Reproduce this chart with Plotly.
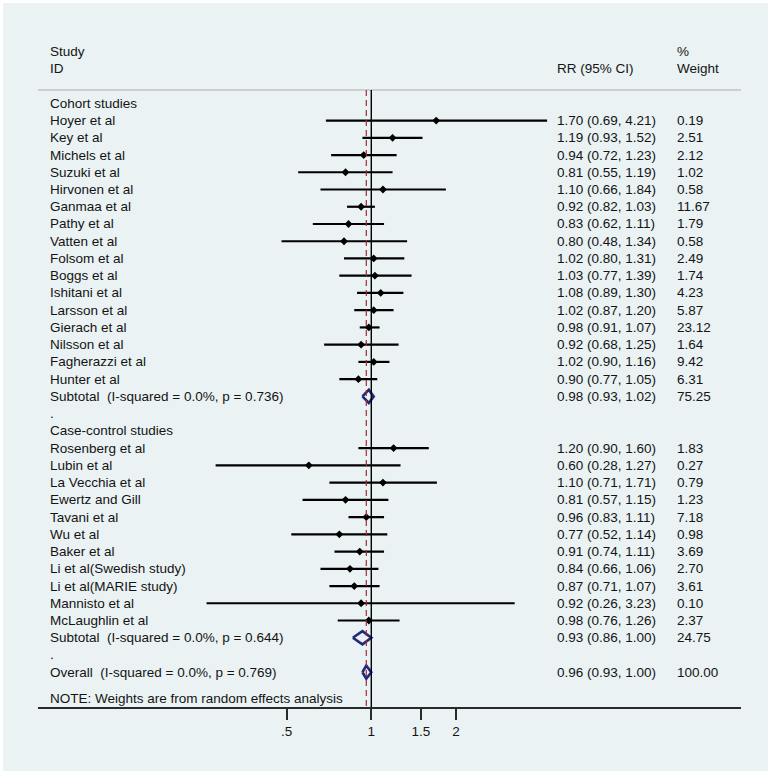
import math
import plotly.graph_objects as go

# ---------------- data ----------------
cohort_studies = ["Hoyer et al", "Key et al", "Michels et al", "Suzuki et al", "Hirvonen et al",
                  "Ganmaa et al", "Pathy et al", "Vatten et al", "Folsom et al", "Boggs et al",
                  "Ishitani et al", "Larsson et al", "Gierach et al", "Nilsson et al",
                  "Fagherazzi et al", "Hunter et al"]
cohort_rr = [1.70, 1.19, 0.94, 0.81, 1.10, 0.92, 0.83, 0.80, 1.02, 1.03, 1.08, 1.02, 0.98, 0.92, 1.02, 0.90]
cohort_lo = [0.69, 0.93, 0.72, 0.55, 0.66, 0.82, 0.62, 0.48, 0.80, 0.77, 0.89, 0.87, 0.91, 0.68, 0.90, 0.77]
cohort_hi = [4.21, 1.52, 1.23, 1.19, 1.84, 1.03, 1.11, 1.34, 1.31, 1.39, 1.30, 1.20, 1.07, 1.25, 1.16, 1.05]
cohort_w = [0.19, 2.51, 2.12, 1.02, 0.58, 11.67, 1.79, 0.58, 2.49, 1.74, 4.23, 5.87, 23.12, 1.64, 9.42, 6.31]

case_studies = ["Rosenberg et al", "Lubin et al", "La Vecchia et al", "Ewertz and Gill", "Tavani et al",
                "Wu et al", "Baker et al", "Li et al(Swedish study)", "Li et al(MARIE study)",
                "Mannisto et al", "McLaughlin et al"]
case_rr = [1.20, 0.60, 1.10, 0.81, 0.96, 0.77, 0.91, 0.84, 0.87, 0.92, 0.98]
case_lo = [0.90, 0.28, 0.71, 0.57, 0.83, 0.52, 0.74, 0.66, 0.71, 0.26, 0.76]
case_hi = [1.60, 1.27, 1.71, 1.15, 1.11, 1.14, 1.11, 1.06, 1.07, 3.23, 1.26]
case_w = [1.83, 0.27, 0.79, 1.23, 7.18, 0.98, 3.69, 2.70, 3.61, 0.10, 2.37]

group_names = ["Cohort studies", "Case-control studies"]
subtotal_rr = [0.98, 0.93]
subtotal_lo = [0.93, 0.86]
subtotal_hi = [1.02, 1.00]
subtotal_w = [75.25, 24.75]
subtotal_i2 = ["0.0%", "0.0%"]
subtotal_p = ["0.736", "0.644"]

overall_rr, overall_lo, overall_hi, overall_w = 0.96, 0.93, 1.00, 100.00
overall_i2, overall_p = "0.0%", "0.769"

tick_vals = [0.5, 1, 1.5, 2]
tick_text = [".5", "1", "1.5", "2"]
null_value = 1
note_text = "NOTE: Weights are from random effects analysis"

# ---------------- build rows ----------------
groups = [
    (cohort_studies, cohort_rr, cohort_lo, cohort_hi, cohort_w),
    (case_studies, case_rr, case_lo, case_hi, case_w),
]

labels = []      # (row, text)
rr_col = []      # (row, text)
w_col = []       # (row, text)
study_rows, study_rr, study_lo, study_hi = [], [], [], []
diamonds = []    # (row, lo, est, hi)

row = 0
for gi, (names, rr, lo, hi, w) in enumerate(groups):
    labels.append((row, group_names[gi]))
    row += 1
    for n, r_, l_, h_, w_ in zip(names, rr, lo, hi, w):
        labels.append((row, n))
        rr_col.append((row, f"{r_:.2f} ({l_:.2f}, {h_:.2f})"))
        w_col.append((row, f"{w_:.2f}"))
        study_rows.append(row)
        study_rr.append(r_)
        study_lo.append(l_)
        study_hi.append(h_)
        row += 1
    labels.append((row, f"Subtotal  (I-squared = {subtotal_i2[gi]}, p = {subtotal_p[gi]})"))
    rr_col.append((row, f"{subtotal_rr[gi]:.2f} ({subtotal_lo[gi]:.2f}, {subtotal_hi[gi]:.2f})"))
    w_col.append((row, f"{subtotal_w[gi]:.2f}"))
    diamonds.append((row, subtotal_lo[gi], subtotal_rr[gi], subtotal_hi[gi]))
    row += 1
    labels.append((row, "."))
    row += 1
row_overall = row
labels.append((row, f"Overall  (I-squared = {overall_i2}, p = {overall_p})"))
rr_col.append((row, f"{overall_rr:.2f} ({overall_lo:.2f}, {overall_hi:.2f})"))
w_col.append((row, f"{overall_w:.2f}"))
diamonds.append((row, overall_lo, overall_rr, overall_hi))
note_row = row + 1.5

# ---------------- geometry ----------------
W, H = 774, 778
ml, mr, mt, mb = 38, 33, 35, 71
plot_w = W - ml - mr
plot_h = H - mt - mb
y_top, y_bot = -3.962, 35.017
sep_row = -0.77
x_lo_log, x_hi_log = -1.1836, 1.3129

FONT = "Liberation Sans, Arial, sans-serif"
FS = 13.5
TXT = "#141414"

fig = go.Figure()

# CI lines
cx, cy = [], []
for r_, l_, h_ in zip(study_rows, study_lo, study_hi):
    cx += [l_, h_, None]
    cy += [r_, r_, None]
fig.add_trace(go.Scatter(x=cx, y=cy, mode="lines", line=dict(color="black", width=2.2),
                         hoverinfo="skip", showlegend=False))
# point estimates
fig.add_trace(go.Scatter(x=study_rr, y=study_rows, mode="markers",
                         marker=dict(symbol="diamond", size=6, color="black"),
                         showlegend=False))
# summary diamonds
half_h = 0.38
dx, dy = [], []
for r_, l_, e_, h_ in diamonds:
    dx += [l_, e_, h_, e_, l_, None]
    dy += [r_, r_ - half_h, r_, r_ + half_h, r_, None]
fig.add_trace(go.Scatter(x=dx, y=dy, mode="lines", line=dict(color="#1f2a78", width=2.6),
                         hoverinfo="skip", showlegend=False))

annotations = []
def add_text(xp, yr, text):
    annotations.append(dict(x=xp, xref="paper", y=yr, yref="y", text=text, showarrow=False,
                            xanchor="left", yanchor="middle",
                            font=dict(family=FONT, size=FS, color=TXT)))

x_lab = (48 - ml) / plot_w
x_rr = (555 - ml) / plot_w
x_w = (675 - ml) / plot_w
for r_, t in labels:
    add_text(x_lab, r_, t)
for r_, t in rr_col:
    add_text(x_rr, r_, t)
for r_, t in w_col:
    add_text(x_w, r_, t)
add_text(x_lab, -3, "Study")
add_text(x_lab, -2, "ID")
add_text(x_rr, -2, "RR (95% CI)")
add_text(x_w, -3, "%")
add_text(x_w, -2, "Weight")
add_text(x_lab, note_row, note_text)

shapes = [
    # graph region background
    dict(type="rect", xref="paper", yref="paper",
         x0=(3 - ml) / plot_w, x1=(768 - ml) / plot_w,
         y0=-(771 - (H - mb)) / plot_h, y1=((H - mb) - 3) / plot_h,
         fillcolor="#EAF2F3", line=dict(width=0), layer="below"),
    # header separator
    dict(type="line", xref="paper", yref="y", x0=0, x1=1, y0=sep_row, y1=sep_row,
         line=dict(color="#cfcfcf", width=2)),
    # null line
    dict(type="line", xref="x", yref="y", x0=null_value, x1=null_value, y0=sep_row, y1=y_bot,
         line=dict(color="black", width=1.4)),
    # overall effect line
    dict(type="line", xref="x", yref="y", x0=overall_rr, x1=overall_rr, y0=sep_row, y1=y_bot,
         line=dict(color="#a02a3a", width=1.2, dash="6px,4px")),
]

fig.update_layout(
    width=W, height=H,
    margin=dict(l=ml, r=mr, t=mt, b=mb, pad=0),
    paper_bgcolor="white", plot_bgcolor="white",
    showlegend=False,
    annotations=annotations, shapes=shapes,
    xaxis=dict(type="log", range=[x_lo_log, x_hi_log], tickvals=tick_vals, ticktext=tick_text,
               showgrid=False, zeroline=False, showline=True, linecolor="#2a2a2a", linewidth=2,
               ticks="outside", ticklen=11, tickwidth=2, tickcolor="#2a2a2a",
               tickfont=dict(family=FONT, size=FS, color=TXT), fixedrange=True),
    yaxis=dict(range=[y_bot, y_top], visible=False, showgrid=False, zeroline=False, fixedrange=True),
)

fig.write_html("out.html", config={"displayModeBar": False},
               post_script="document.body.style.margin='0px';")
